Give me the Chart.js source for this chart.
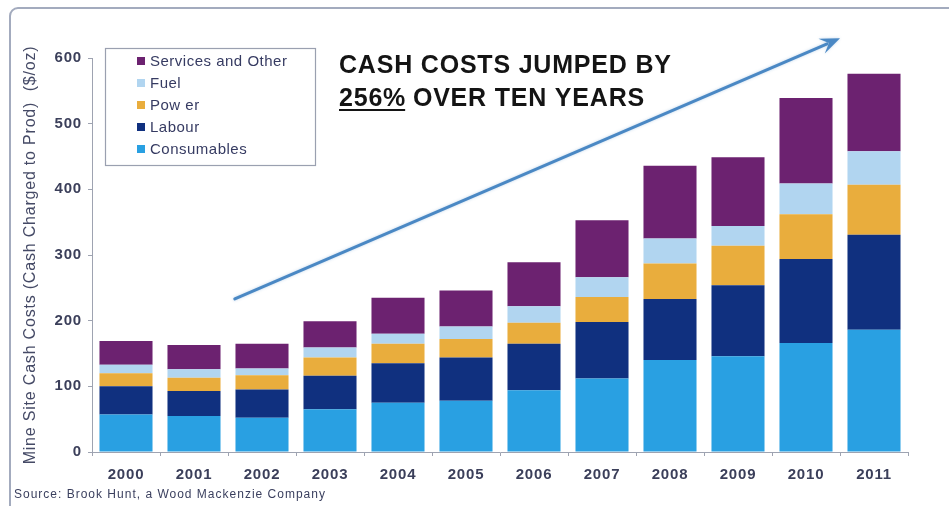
<!DOCTYPE html>
<html>
<head>
<meta charset="utf-8">
<title>Mine Site Cash Costs 2000-2011</title>
<script src="https://cdn.jsdelivr.net/npm/chart.js@4.4.1/dist/chart.umd.min.js"></script>
<style>
  html, body { margin: 0; padding: 0; background: #ffffff; }
  #wrap { width: 949px; height: 506px; position: relative; }
  canvas { display: block; }
</style>
</head>
<body>
<div id="wrap"><canvas id="chart" width="949" height="506"></canvas></div>
<script>
// Cash cost components, US$ per ounce
const years = ['2000', '2001', '2002', '2003', '2004', '2005', '2006', '2007', '2008', '2009', '2010', '2011'];
const consumables = [57, 55, 52, 65, 75, 78, 94, 112, 140, 146, 166, 186];
const labour      = [43, 38, 43, 51, 60, 66, 71, 86, 93, 108, 128, 145];
const power       = [20, 20, 22, 28, 30, 28, 32, 38, 54, 60, 68, 76];
const fuel        = [13, 13, 10, 15, 15, 19, 25, 30, 38, 30, 47, 51];
const services    = [36, 37, 38, 40, 55, 55, 67, 87, 111, 105, 130, 118];
const yTickValues = [0, 100, 200, 300, 400, 500, 600];

const seriesNames  = ['Consumables', 'Labour', 'Pow er', 'Fuel', 'Services and Other'];
const seriesValues = [consumables, labour, power, fuel, services];
const seriesColors = ['#29a0e2', '#10307f', '#e9ad3d', '#b1d5f0', '#6c2270'];

const headline = ['CASH COSTS JUMPED BY', '256%', ' OVER TEN YEARS'];
const sourceNote = 'Source: Brook Hunt, a Wood Mackenzie Company';
const axisTitle = 'Mine Site Cash Costs (Cash Charged to Prod)  ($/oz)';
// trend arrow, in (category index, $/oz) coordinates
const trendFrom = [1.6, 233];
const trendTo = [10.5, 630];

const FONT = '"Liberation Sans", Arial, Helvetica, sans-serif';
const AXIS_COLOR = '#9ea3b1';
const LABEL_COLOR = '#3b3f5a';

// white page plus the thin slide frame along the top and left edges
const framePlugin = {
  id: 'frame',
  beforeDraw(chart) {
    const ctx = chart.ctx;
    ctx.save();
    ctx.fillStyle = '#ffffff';
    ctx.fillRect(0, 0, chart.width, chart.height);
    ctx.strokeStyle = '#a3abbe';
    ctx.lineWidth = 2;
    ctx.beginPath();
    ctx.moveTo(10, chart.height);
    ctx.lineTo(10, 16);
    ctx.arcTo(10, 8, 18, 8, 8);
    ctx.lineTo(chart.width, 8);
    ctx.stroke();
    ctx.restore();
  }
};

// slightly wide lettering for the axis texts
const spacingPlugin = {
  id: 'spacing',
  beforeLayout(chart) { chart.ctx.letterSpacing = '0.8px'; },
  beforeDraw(chart) { chart.ctx.letterSpacing = '0.8px'; }
};

// headline, trend arrow, boxed legend and source line
const overlayPlugin = {
  id: 'overlay',
  afterDraw(chart) {
    const ctx = chart.ctx;
    const xs = chart.scales.x, ys = chart.scales.y;

    // trend arrow
    ctx.save();
    const x0 = xs.getPixelForValue(trendFrom[0]), y0 = ys.getPixelForValue(trendFrom[1]);
    const x1 = xs.getPixelForValue(trendTo[0]), y1 = ys.getPixelForValue(trendTo[1]);
    const ang = Math.atan2(y1 - y0, x1 - x0);
    const headLen = 20, headHalf = 8;
    ctx.strokeStyle = '#4a88c4';
    ctx.fillStyle = '#4a88c4';
    ctx.shadowColor = 'rgba(74,136,196,0.35)';
    ctx.shadowBlur = 3;
    ctx.lineWidth = 3;
    ctx.lineCap = 'round';
    ctx.beginPath();
    ctx.moveTo(x0, y0);
    ctx.lineTo(x1 - Math.cos(ang) * headLen * 0.7, y1 - Math.sin(ang) * headLen * 0.7);
    ctx.stroke();
    const bx = x1 - Math.cos(ang) * headLen, by = y1 - Math.sin(ang) * headLen;
    ctx.beginPath();
    ctx.moveTo(x1, y1);
    ctx.lineTo(bx + Math.sin(ang) * headHalf, by - Math.cos(ang) * headHalf);
    ctx.lineTo(x1 - Math.cos(ang) * headLen * 0.6, y1 - Math.sin(ang) * headLen * 0.6);
    ctx.lineTo(bx - Math.sin(ang) * headHalf, by + Math.cos(ang) * headHalf);
    ctx.closePath();
    ctx.fill();
    ctx.restore();

    // headline
    ctx.save();
    ctx.fillStyle = '#141414';
    ctx.font = 'bold 25px ' + FONT;
    ctx.letterSpacing = '0.8px';
    ctx.textBaseline = 'alphabetic';
    ctx.textAlign = 'left';
    ctx.fillText(headline[0], 339, 73);
    ctx.fillText(headline[1], 339, 106);
    const w = ctx.measureText(headline[1]).width;
    ctx.fillText(headline[2], 339 + w - 1, 106);
    ctx.fillRect(339, 109, w - 1, 2);
    ctx.restore();

    // legend box
    ctx.save();
    ctx.fillStyle = '#ffffff';
    ctx.fillRect(105, 48, 210, 117);
    ctx.strokeStyle = '#9aa0b0';
    ctx.lineWidth = 1.2;
    ctx.strokeRect(105.5, 48.5, 210, 117);
    ctx.font = '15px ' + FONT;
    ctx.letterSpacing = '0.5px';
    ctx.textBaseline = 'middle';
    ctx.textAlign = 'left';
    const order = chart.data.datasets.slice().reverse();
    order.forEach((ds, i) => {
      const yc = 61 + i * 22;
      ctx.fillStyle = ds.backgroundColor;
      ctx.fillRect(137, yc - 4, 8, 8);
      ctx.fillStyle = '#363b62';
      ctx.fillText(ds.label, 150, yc + 1);
    });
    ctx.restore();

    // source line
    ctx.save();
    ctx.font = '12px ' + FONT;
    ctx.letterSpacing = '1px';
    ctx.fillStyle = '#3a3f5e';
    ctx.textBaseline = 'alphabetic';
    ctx.textAlign = 'left';
    ctx.fillText(sourceNote, 14, 498);
    ctx.restore();
  }
};

new Chart(document.getElementById('chart'), {
  type: 'bar',
  data: {
    labels: years,
    datasets: seriesNames.map((name, i) => ({
      label: name,
      data: seriesValues[i],
      backgroundColor: seriesColors[i],
      borderWidth: 0,
      barPercentage: 0.78,
      categoryPercentage: 1.0
    }))
  },
  options: {
    responsive: false,
    animation: false,
    devicePixelRatio: 1,
    layout: { padding: { left: 10, right: 41, top: 58, bottom: 12 } },
    plugins: {
      legend: { display: false },
      tooltip: { enabled: false }
    },
    scales: {
      x: {
        stacked: true,
        border: { color: AXIS_COLOR, width: 1 },
        grid: { drawOnChartArea: false, drawTicks: true, tickLength: 4, color: AXIS_COLOR, offset: true },
        ticks: { color: LABEL_COLOR, font: { family: FONT, size: 15, weight: 'bold' }, padding: 10, maxRotation: 0 }
      },
      y: {
        stacked: true,
        min: 0,
        max: 600,
        afterBuildTicks(scale) { scale.ticks = yTickValues.map(v => ({ value: v })); },
        afterFit(scale) { scale.width = 82; },
        border: { color: AXIS_COLOR, width: 1 },
        grid: { drawOnChartArea: false, drawTicks: true, tickLength: 4, color: AXIS_COLOR },
        ticks: { color: LABEL_COLOR, font: { family: FONT, size: 15, weight: 'bold' }, padding: 6 },
        title: {
          display: true,
          text: axisTitle,
          color: '#454a66',
          font: { family: FONT, size: 16 },
          padding: { top: 11, bottom: 10 }
        }
      }
    }
  },
  plugins: [framePlugin, spacingPlugin, overlayPlugin]
});
</script>
</body>
</html>
